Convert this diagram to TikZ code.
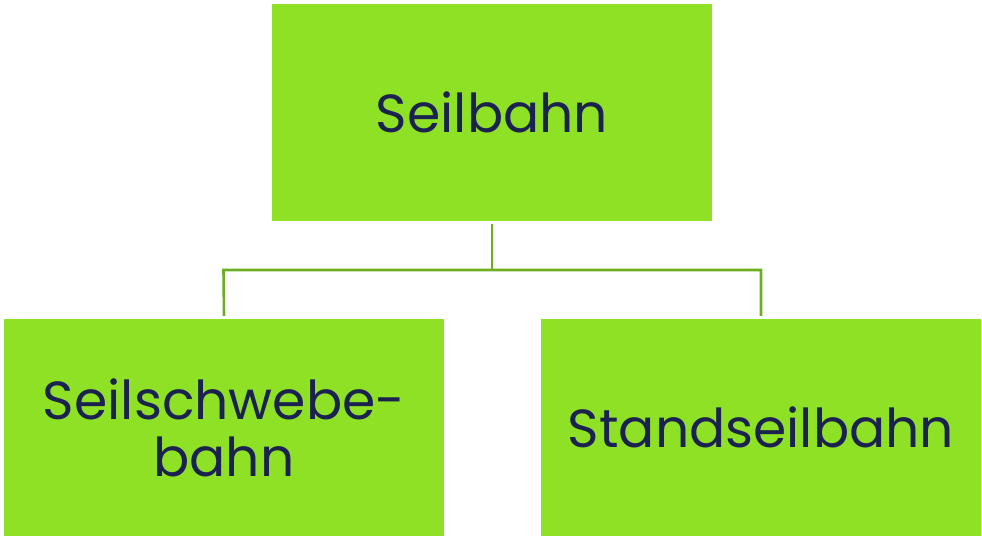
\documentclass[tikz,border=0pt]{standalone}
\usepackage{fontspec}
\setmainfont{Poppins}
\definecolor{boxgreen}{HTML}{8FE125}
\definecolor{linkgreen}{HTML}{6CAD22}
\definecolor{inktext}{HTML}{1B2250}
\tikzset{
  catbox/.style={fill=boxgreen, draw=none, minimum width=440pt, minimum height=217pt,
    inner sep=0pt, align=center, text=inktext,
    font=\fontsize{53.6}{57}\selectfont},
  link/.style={draw=linkgreen, line width=2.6pt}
}
\begin{document}
\begin{tikzpicture}[x=1pt,y=-1pt]
  \useasboundingbox (0,0) rectangle (982,538);
  \node[catbox] (top) at (492,112.5) {Seilbahn};
  \node[catbox] (left) at (224,427.5) {Seilschwebe-\\bahn};
  \node[catbox] (right) at (761,427.5) {Standseilbahn};
  \coordinate (a) at ([yshift=-3pt]top.south);
  \coordinate (b) at (492,270);
  \coordinate (bl) at (223.5,270);
  \coordinate (br) at (761,270);
  \coordinate (l) at ([yshift=3pt]left.north);
  \coordinate (r) at ([yshift=3pt]right.north);
  \draw[link] (a) -- (b);
  \draw[link] (l) -- (bl) -- (br) -- (r);
\end{tikzpicture}
\end{document}
